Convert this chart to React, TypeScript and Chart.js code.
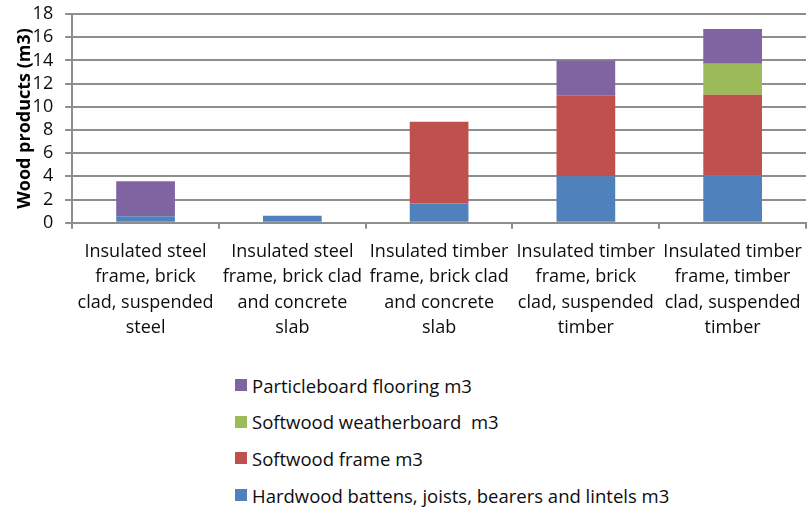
import React, { useEffect, useRef } from "react";
import { Chart, registerables } from "chart.js";

Chart.register(...registerables);

const categories: string[][] = [
  ["Insulated steel", "frame, brick", "clad, suspended", "steel"],
  ["Insulated steel", "frame, brick clad", "and concrete", "slab"],
  ["Insulated timber", "frame, brick clad", "and concrete", "slab"],
  ["Insulated timber", "frame, brick", "clad, suspended", "timber"],
  ["Insulated timber", "frame, timber", "clad, suspended", "timber"],
];

const hardwood = [0.57, 0.6, 1.67, 4.0, 4.07];
const softwoodFrame = [0, 0, 7.03, 7.0, 6.97];
const weatherboard = [0, 0, 0, 0, 2.66];
const particleboard = [3.0, 0, 0, 3.0, 3.0];

const seriesLabels = [
  "Hardwood battens, joists, bearers and lintels m3",
  "Softwood frame m3",
  "Softwood weatherboard  m3",
  "Particleboard flooring m3",
];
const seriesColors = ["#4F81BD", "#C0504D", "#9BBB59", "#8064A2"];
const yMin = 0;
const yMax = 18;
const yStep = 2;

const FONT = "'Open Sans', sans-serif";
const GRID = "#8e8e8e";
const TEXT = "#0d0d0d";

export default function App() {
  const ref = useRef<HTMLCanvasElement | null>(null);

  useEffect(() => {
    document.body.style.margin = "0";
    const values = [hardwood, softwoodFrame, weatherboard, particleboard];
    const chart = new Chart(ref.current!, {
      type: "bar",
      data: {
        labels: categories,
        datasets: values.map((v, i) => ({
          label: seriesLabels[i],
          data: v,
          backgroundColor: seriesColors[i],
          borderWidth: 0,
          categoryPercentage: 0.4,
          barPercentage: 1,
        })),
      },
      options: {
        animation: false,
        responsive: false,
        maintainAspectRatio: false,
        layout: { padding: { top: 0, right: 1, left: 0, bottom: 0 } },
        plugins: {
          legend: { display: false },
          tooltip: { enabled: false },
        },
        scales: {
          x: {
            stacked: true,
            grid: {
              offset: true,
              drawOnChartArea: false,
              drawTicks: true,
              tickLength: 6,
              color: GRID,
              lineWidth: 2,
            },
            border: { display: true, color: GRID, width: 2 },
            ticks: {
              color: TEXT,
              font: { family: FONT, size: 18, lineHeight: 1.42 },
              padding: 10,
              maxRotation: 0,
              autoSkip: false,
            },
          },
          y: {
            stacked: true,
            min: yMin,
            max: yMax,
            afterFit: (scale: any) => {
              scale.paddingTop = 14;
              scale.paddingBottom = 10;
            },
            grid: {
              color: GRID,
              lineWidth: 2,
              tickLength: 7,
            },
            border: { display: true, color: GRID, width: 2 },
            ticks: {
              stepSize: yStep,
              autoSkip: false,
              color: TEXT,
              font: { family: FONT, size: 18 },
              padding: 12,
            },
            title: {
              display: true,
              text: "Wood products (m3)",
              color: "#000",
              font: { family: FONT, size: 18, weight: "bold" },
              padding: { top: 14, bottom: -15 },
            },
          },
        },
      },
    });
    return () => chart.destroy();
  }, []);

  const legendOrder = [3, 2, 1, 0];

  return (
    <div style={{ position: "fixed", left: 0, top: 0, width: 812, height: 510, background: "#fff" }}>
      <canvas ref={ref} width={812} height={351} style={{ display: "block", width: 812, height: 351 }} />
      <div style={{ position: "absolute", left: 235, top: 370, fontFamily: FONT, fontSize: 18.5, color: TEXT }}>
        {legendOrder.map((i, k) => (
          <div key={i} style={{ display: "flex", alignItems: "center", height: 30, marginBottom: k < 3 ? 6.7 : 0, whiteSpace: "pre" }}>
            <span style={{ display: "inline-block", width: 12, height: 12, background: seriesColors[i], marginRight: 5 }} />
            <span>{seriesLabels[i]}</span>
          </div>
        ))}
      </div>
    </div>
  );
}
